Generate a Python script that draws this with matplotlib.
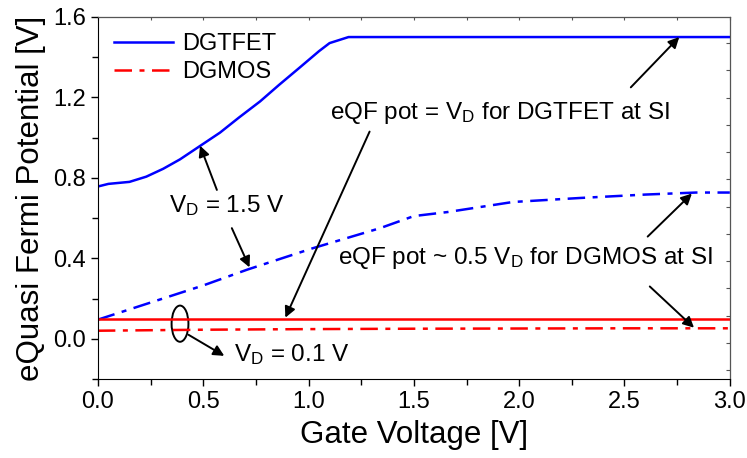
import numpy as np
import matplotlib
matplotlib.use("Agg")
import matplotlib.pyplot as plt
from matplotlib.patches import Ellipse
from matplotlib.ticker import MultipleLocator, NullFormatter

plt.rcParams['font.family'] = ['Liberation Sans', 'DejaVu Sans']
plt.rcParams['mathtext.fontset'] = 'custom'
plt.rcParams['mathtext.rm'] = 'Liberation Sans'
plt.rcParams['mathtext.it'] = 'Liberation Sans'

# DGTFET, VD = 1.5 V
vg_tfet_hi = [0.0, 0.05, 0.15, 0.23, 0.31, 0.39, 0.48, 0.58, 0.67, 0.77, 0.86,
              0.96, 1.05, 1.10, 1.19, 1.34, 1.6, 2.0, 2.5, 3.0]
qf_tfet_hi = [0.757, 0.77, 0.78, 0.806, 0.845, 0.892, 0.955, 1.025, 1.10, 1.18, 1.262,
              1.35, 1.43, 1.47, 1.50, 1.50, 1.50, 1.50, 1.50, 1.50]

# DGMOS, VD = 1.5 V
vg_mos_hi = [0.0, 0.25, 0.5, 0.71, 1.02, 1.34, 1.5, 1.66, 1.97, 2.29, 2.6, 2.84, 3.0]
qf_mos_hi = [0.095, 0.18, 0.265, 0.344, 0.45, 0.55, 0.61, 0.63, 0.68, 0.70, 0.717, 0.727, 0.727]

# VD = 0.1 V
vg_lo = [0.0, 0.5, 1.0, 1.5, 2.0, 2.5, 3.0]
qf_tfet_lo = [0.10, 0.10, 0.10, 0.10, 0.10, 0.10, 0.10]
qf_mos_lo = [0.040, 0.045, 0.048, 0.050, 0.051, 0.052, 0.052]

blue = '#0000ff'
red = '#ff0000'
dashdot = (0, (7, 3, 2, 3))

fig = plt.figure(figsize=(7.47, 4.58), dpi=100)
ax = fig.add_axes([0.131, 0.1725, 0.846, 0.7905])

ax.plot(vg_tfet_hi, qf_tfet_hi, color=blue, lw=1.8, label='DGTFET')
ax.plot(vg_mos_hi, qf_mos_hi, color=blue, lw=1.8, linestyle=dashdot)
ax.plot(vg_lo, qf_tfet_lo, color=red, lw=1.8)
ax.plot(vg_lo, qf_mos_lo, color=red, lw=1.8, linestyle=dashdot, label='DGMOS')

ax.set_xlim(0, 3.0)
ax.set_ylim(-0.2, 1.6)
ax.xaxis.set_major_locator(MultipleLocator(0.5))
ax.xaxis.set_minor_locator(MultipleLocator(0.25))
ax.yaxis.set_major_locator(MultipleLocator(0.4))
ax.yaxis.set_minor_locator(MultipleLocator(0.2))
ax.tick_params(which='both', direction='out', labelsize=17, width=1)
ax.tick_params(which='major', length=5)
ax.tick_params(which='minor', length=4)
ax.set_xlabel('Gate Voltage [V]', fontsize=22.5, labelpad=5)
ax.set_ylabel('eQuasi Fermi Potential [V]', fontsize=22.5, labelpad=5)
for s in ['top', 'right']:
    ax.spines[s].set_color('#555555')

# small inward ticks on the top and right frame
top = ax.secondary_xaxis('top')
top.xaxis.set_major_locator(MultipleLocator(0.25))
top.xaxis.set_major_formatter(NullFormatter())
top.tick_params(direction='in', length=2, color='#555555')
right = ax.secondary_yaxis('right')
right.set_yticks(np.arange(1.605, -0.2, -0.1355))
right.yaxis.set_major_formatter(NullFormatter())
right.tick_params(direction='in', length=3, color='#555555')

ax.legend(loc='upper left', frameon=False, fontsize=17, handlelength=2.5,
          borderaxespad=0.3, labelspacing=0.25, handletextpad=0.35)

arrow = dict(arrowstyle='-|>', color='k', lw=1.4, mutation_scale=16, shrinkA=0, shrinkB=0)
fs = 17.5

ax.text(1.91, 1.12, r'eQF pot = V$_\mathrm{D}$ for DGTFET at SI', fontsize=fs,
        ha='center', va='center')
ax.annotate('', xy=(2.76, 1.50), xytext=(2.53, 1.25), arrowprops=arrow)
ax.annotate('', xy=(0.89, 0.105), xytext=(1.29, 1.03), arrowprops=arrow)

ax.text(2.03, 0.40, r'eQF pot ~ 0.5 V$_\mathrm{D}$ for DGMOS at SI', fontsize=fs,
        ha='center', va='center')
ax.annotate('', xy=(2.82, 0.722), xytext=(2.61, 0.508), arrowprops=arrow)
ax.annotate('', xy=(2.83, 0.055), xytext=(2.62, 0.26), arrowprops=arrow)

ax.text(0.61, 0.66, r'V$_\mathrm{D}$ = 1.5 V', fontsize=fs, ha='center', va='center')
ax.annotate('', xy=(0.485, 0.96), xytext=(0.565, 0.74), arrowprops=arrow)
ax.annotate('', xy=(0.72, 0.355), xytext=(0.636, 0.55), arrowprops=arrow)

ax.add_patch(Ellipse((0.39, 0.075), 0.08, 0.18, fill=False, lw=1.4, color='k'))
ax.annotate('', xy=(0.60, -0.085), xytext=(0.43, 0.02), arrowprops=arrow)
ax.text(0.92, -0.08, r'V$_\mathrm{D}$ = 0.1 V', fontsize=fs, ha='center', va='center')

fig.savefig('out.png', dpi=100)
